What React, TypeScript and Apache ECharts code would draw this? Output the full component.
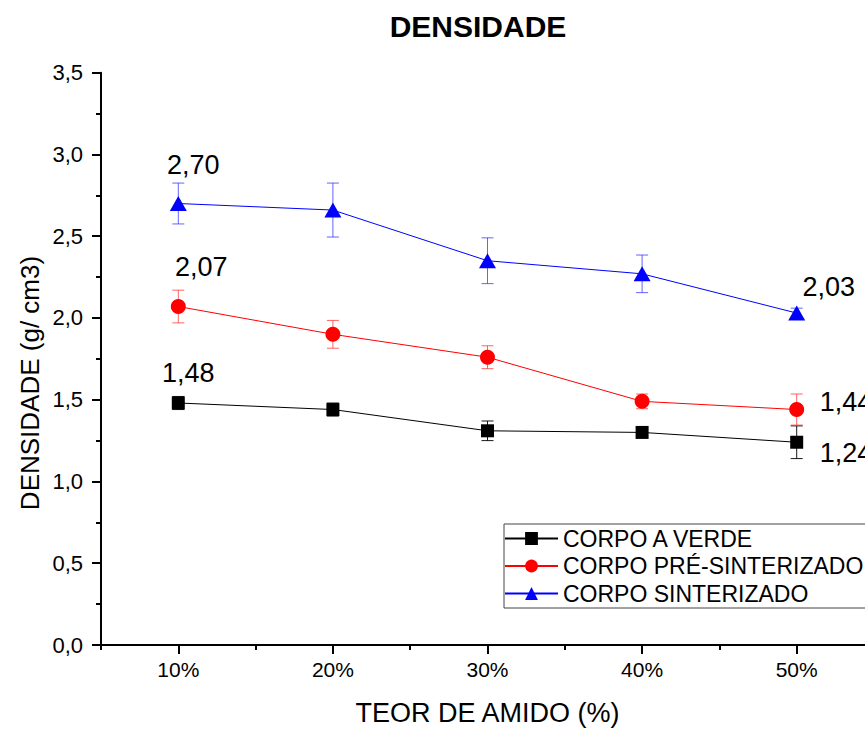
import React, { useEffect, useRef } from 'react';
import * as echarts from 'echarts';

const xValues = [10, 20, 30, 40, 50];
const xMinorTicks = [5, 15, 25, 35, 45, 55];
const seriesNames = ['CORPO A VERDE', 'CORPO PRÉ-SINTERIZADO', 'CORPO SINTERIZADO'];

const verde = [1.48, 1.44, 1.31, 1.3, 1.24];
const verdeErr = [0.04, 0.04, 0.06, 0.025, 0.1];
const preSint = [2.07, 1.9, 1.76, 1.49, 1.44];
const preSintErr = [0.1, 0.085, 0.07, 0.045, 0.095];
const sint = [2.7, 2.66, 2.35, 2.27, 2.03];
const sintErr = [0.125, 0.165, 0.14, 0.115, 0.03];

const FONT = '"Liberation Sans", Arial, sans-serif';

const fmt = (v: number, d: number) => v.toFixed(d).replace('.', ',');

// which points carry a value label, and how it is placed
const labelSpec: { s: number; i: number; offset: [number, number]; align: string }[] = [
  { s: 2, i: 0, offset: [15, -39], align: 'center' },
  { s: 1, i: 0, offset: [23, -40], align: 'center' },
  { s: 0, i: 0, offset: [10, -30], align: 'center' },
  { s: 2, i: 4, offset: [32, -26], align: 'center' },
  { s: 1, i: 4, offset: [23, -8], align: 'left' },
  { s: 0, i: 4, offset: [23, 11], align: 'left' },
];

export default function App() {
  const ref = useRef<HTMLDivElement>(null);

  useEffect(() => {
    const chart = echarts.init(ref.current!, null, { renderer: 'svg' });

    const values = [verde, preSint, sint];
    const errs = [verdeErr, preSintErr, sintErr];
    const colors = ['#000000', '#ff0000', '#0000ff'];
    const errColors = ['#000000', '#ff3030', '#3030ff'];
    const symbols = ['rect', 'circle', 'triangle'];
    const symbolSizes: any[] = [13, 15, [17, 15]];

    const lineSeries = values.map((vals, s) => ({
      name: seriesNames[s],
      type: 'line',
      z: 3,
      symbol: symbols[s],
      symbolSize: symbolSizes[s],
      lineStyle: { color: colors[s], width: 1 },
      itemStyle: { color: colors[s] },
      data: vals.map((v, i) => {
        const spec = labelSpec.find((l) => l.s === s && l.i === i);
        const item: any = { value: [xValues[i], v] };
        if (spec) {
          item.label = {
            show: true,
            position: 'inside',
            offset: spec.offset,
            align: spec.align,
            verticalAlign: 'middle',
            formatter: () => fmt(v, 2),
            fontSize: 27,
            fontFamily: FONT,
            color: '#000',
          };
        }
        return item;
      }),
    }));

    const errSeries = values.map((vals, s) => ({
      name: 'err' + s,
      type: 'custom',
      z: 2,
      silent: true,
      data: vals.map((v, i) => [xValues[i], v - errs[s][i], v + errs[s][i]]),
      renderItem: (params: any, api: any) => {
        const x = api.value(0);
        const pLo = api.coord([x, api.value(1)]);
        const pHi = api.coord([x, api.value(2)]);
        const hw = 6;
        const style = { stroke: errColors[s], lineWidth: 1, opacity: s === 0 ? 0.9 : 0.75 };
        return {
          type: 'group',
          children: [
            { type: 'line', shape: { x1: pLo[0], y1: pLo[1], x2: pHi[0], y2: pHi[1] }, style },
            { type: 'line', shape: { x1: pLo[0] - hw, y1: pLo[1], x2: pLo[0] + hw, y2: pLo[1] }, style },
            { type: 'line', shape: { x1: pHi[0] - hw, y1: pHi[1], x2: pHi[0] + hw, y2: pHi[1] }, style },
          ],
        };
      },
    }));

    const option: any = {
      animation: false,
      backgroundColor: '#fff',
      textStyle: { fontFamily: FONT },
      grid: { left: 101, right: 26, top: 72.7, bottom: 82.7, containLabel: false },
      graphic: [
        {
          type: 'text',
          x: 478,
          y: 26,
          style: {
            text: 'DENSIDADE',
            font: 'bold 30px ' + FONT,
            fill: '#000',
            align: 'center',
            verticalAlign: 'middle',
          },
        },
        {
          type: 'text',
          x: 30,
          y: 383,
          rotation: Math.PI / 2,
          style: {
            text: 'DENSIDADE (g/ cm3)',
            font: '26px ' + FONT,
            fill: '#000',
            align: 'center',
            verticalAlign: 'middle',
          },
        },
      ],
      legend: {
        orient: 'vertical',
        left: 504,
        top: 524,
        itemWidth: 53,
        itemHeight: 16,
        itemGap: 4.5,
        padding: [3, 20, 3, 0],
        borderColor: '#444',
        borderWidth: 1,
        backgroundColor: '#fff',
        selectedMode: false,
        textStyle: { fontSize: 23, fontFamily: FONT, color: '#000' },
        data: seriesNames,
      },
      xAxis: [
        {
          type: 'value',
          min: 5,
          max: 55,
          position: 'bottom',
          axisLine: { show: true, onZero: false, lineStyle: { color: '#000', width: 2 } },
          axisTick: { show: true, length: 9, customValues: xValues, lineStyle: { color: '#000', width: 2 } },
          axisLabel: {
            customValues: xValues,
            formatter: (v: number) => v + '%',
            fontSize: 21,
            fontFamily: FONT,
            color: '#000',
            margin: 14,
          },
          splitLine: { show: false },
          name: 'TEOR DE AMIDO (%)',
          nameLocation: 'middle',
          nameGap: 54,
          nameTextStyle: { fontSize: 27, fontFamily: FONT, color: '#000' },
        },
        {
          type: 'value',
          min: 5,
          max: 55,
          position: 'bottom',
          axisLine: { show: false, onZero: false },
          axisTick: { show: true, length: 5, customValues: xMinorTicks, lineStyle: { color: '#000', width: 2 } },
          axisLabel: { show: false },
          splitLine: { show: false },
        },
      ],
      yAxis: {
        type: 'value',
        min: 0,
        max: 3.5,
        interval: 0.5,
        axisLine: { show: true, lineStyle: { color: '#000', width: 2 } },
        axisTick: { show: true, length: 9, lineStyle: { color: '#000', width: 2 } },
        minorTick: { show: true, splitNumber: 2, length: 5, lineStyle: { color: '#000', width: 2 } },
        axisLabel: {
          formatter: (v: number) => fmt(v, 1),
          fontSize: 22,
          fontFamily: FONT,
          color: '#000',
          margin: 18,
        },
        splitLine: { show: false },
        minorSplitLine: { show: false },
      },
      series: [...errSeries, ...lineSeries],
    };

    chart.setOption(option);
    return () => chart.dispose();
  }, []);

  return (
    <div
      style={{
        position: 'fixed',
        left: 0,
        top: 0,
        width: 865,
        height: 731,
        overflow: 'hidden',
        background: '#fff',
      }}
    >
      <div ref={ref} style={{ width: 900, height: 731 }} />
    </div>
  );
}
